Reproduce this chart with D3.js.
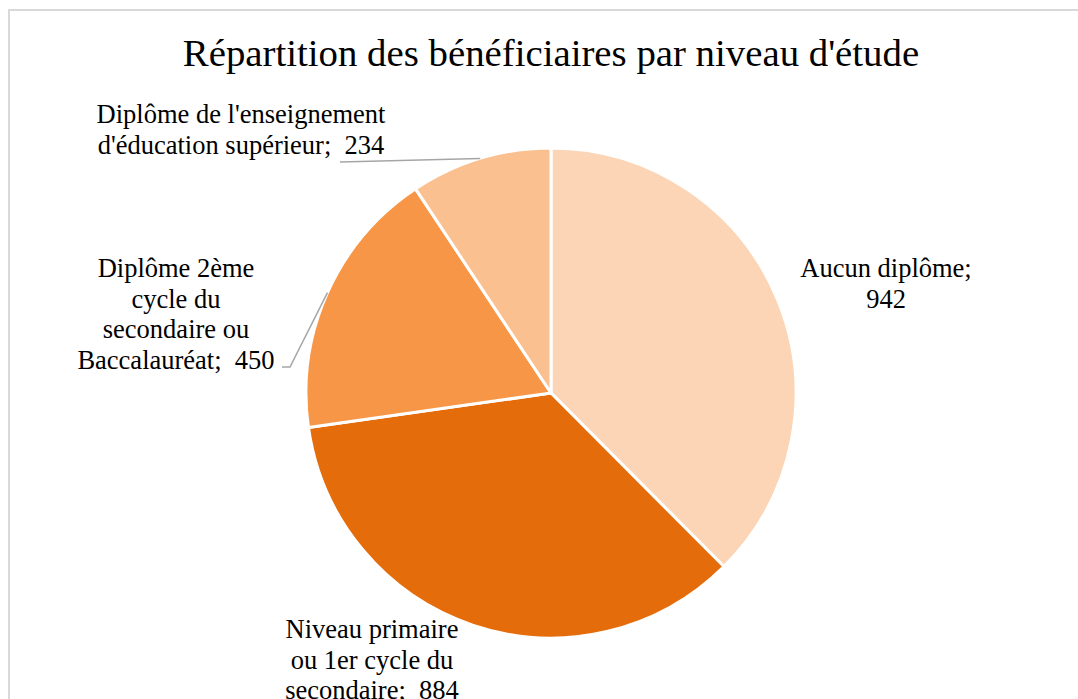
<!DOCTYPE html>
<html lang="fr">
<head>
  <meta charset="UTF-8">
  <title>Répartition des bénéficiaires par niveau d'étude</title>
  <style>
    body {
      margin: 0;
      padding: 0;
      background: #fff;
    }
    svg {
      display: block;
    }
    .label {
      font-family: "Liberation Serif", "Times New Roman", serif;
      font-size: 26.5px;
      fill: #000;
    }
    .title {
      font-family: "Liberation Serif", "Times New Roman", serif;
      font-size: 38.8px;
      fill: #000;
    }
    .leader {
      fill: none;
      stroke: #a6a6a6;
      stroke-width: 1.5px;
    }
  </style>
</head>
<body>
  <svg></svg>
  <script src="https://d3js.org/d3.v7.min.js"></script>
  <script>
    // data
    const categories = [
      "Aucun diplôme",
      "Niveau primaire ou 1er cycle du secondaire",
      "Diplôme 2ème cycle du secondaire ou Baccalauréat",
      "Diplôme de l'enseignement d'éducation supérieur"
    ];
    const values = [942, 884, 450, 234];
    const labelLines = [
      ["Aucun diplôme;", "942"],
      ["Niveau primaire", "ou 1er cycle du", "secondaire;  884"],
      ["Diplôme 2ème", "cycle du", "secondaire ou", "Baccalauréat;  450"],
      ["Diplôme de l'enseignement", "d'éducation supérieur;  234"]
    ];
    const colors = ["#FBD5B5", "#E46C0A", "#F79646", "#FAC090"];

    const width = 1078, height = 699;
    const cx = 551, cy = 393, radius = 245;

    // label block placement (centre x, first baseline y) and leader start points
    const labelPos = [
      {x: 886, y: 277, leader: null},
      {x: 372, y: 638, leader: null},
      {x: 176, y: 277, leader: [[282, 367], [290, 367]]},
      {x: 241, y: 123, leader: [[340, 162]]}
    ];
    const lineHeight = 30.5;

    const svg = d3.select("svg")
      .attr("width", width)
      .attr("height", height);

    // chart area border
    svg.append("rect")
      .attr("x", 9)
      .attr("y", 10)
      .attr("width", width + 20)
      .attr("height", height + 20)
      .attr("fill", "#fff")
      .attr("stroke", "#d9d9d9")
      .attr("stroke-width", 2);

    svg.append("text")
      .attr("class", "title")
      .attr("x", cx)
      .attr("y", 66)
      .attr("text-anchor", "middle")
      .text("Répartition des bénéficiaires par niveau d'étude");

    const pie = d3.pie().sort(null).value(d => d.value);
    const arcs = pie(categories.map((c, i) => ({name: c, value: values[i], i})));

    const arc = d3.arc().innerRadius(0).outerRadius(radius);

    const g = svg.append("g").attr("transform", `translate(${cx},${cy})`);

    g.selectAll("path")
      .data(arcs)
      .join("path")
      .attr("d", arc)
      .attr("fill", d => colors[d.data.i])
      .attr("stroke", "#fff")
      .attr("stroke-width", 3)
      .attr("stroke-linejoin", "round");

    // leader lines end on the outer edge at slice mid angle
    arcs.forEach(d => {
      const p = labelPos[d.data.i];
      if (!p.leader) return;
      const mid = (d.startAngle + d.endAngle) / 2;
      const end = [cx + radius * Math.sin(mid), cy - radius * Math.cos(mid)];
      svg.append("path")
        .attr("class", "leader")
        .attr("d", d3.line()(p.leader.concat([end])));
    });

    arcs.forEach(d => {
      const p = labelPos[d.data.i];
      const t = svg.append("text")
        .attr("class", "label")
        .attr("text-anchor", "middle")
        .attr("x", p.x)
        .attr("y", p.y);
      labelLines[d.data.i].forEach((line, k) => {
        t.append("tspan")
          .attr("x", p.x)
          .attr("y", p.y + k * lineHeight)
          .style("white-space", "pre")
          .text(line);
      });
    });
  </script>
</body>
</html>
